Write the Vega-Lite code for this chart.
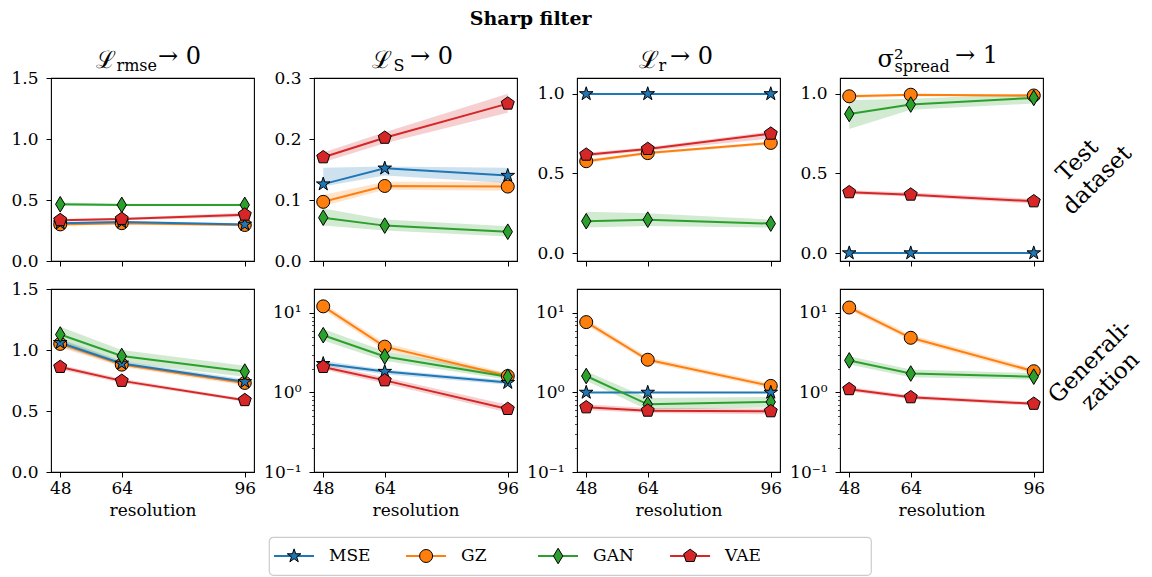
{
"$schema":"https://vega.github.io/schema/vega-lite/v6.json",
"background":"white",
"padding":{"left":10,"top":10,"right":5,"bottom":2},
"title":{"text":"Sharp filter","font":"DejaVu Serif","fontSize":19,"fontWeight":"bold","anchor":"middle","offset":14,"dx":-53,"color":"#000"},
"config":{
 "view":{"stroke":"#000","strokeWidth":1.1},
 "axis":{"domain":false,"grid":false,"ticks":true,"tickColor":"#000","tickSize":5,"tickWidth":1,"labelFont":"DejaVu Serif","labelFontSize":17,"labelColor":"#000","labelFlush":false,"titleFont":"DejaVu Serif","titleFontWeight":"normal","titleColor":"#000","titleFontSize":17},
 "axisX":{"labelPadding":3},
 "axisY":{"labelPadding":8},
 "title":{"font":"DejaVu Serif","fontWeight":"normal","color":"#000"}
},
"datasets":{
"d":[
{"p":"a1","m":"GZ","r":48,"v":0.30,"lo":0.29,"hi":0.31},
{"p":"a1","m":"GZ","r":64,"v":0.31,"lo":0.30,"hi":0.32},
{"p":"a1","m":"GZ","r":96,"v":0.295,"lo":0.285,"hi":0.305},
{"p":"a1","m":"MSE","r":48,"v":0.31,"lo":0.30,"hi":0.32},
{"p":"a1","m":"MSE","r":64,"v":0.32,"lo":0.31,"hi":0.33},
{"p":"a1","m":"MSE","r":96,"v":0.30,"lo":0.29,"hi":0.31},
{"p":"a1","m":"GAN","r":48,"v":0.465,"lo":0.45,"hi":0.48},
{"p":"a1","m":"GAN","r":64,"v":0.46,"lo":0.45,"hi":0.47},
{"p":"a1","m":"GAN","r":96,"v":0.46,"lo":0.45,"hi":0.47},
{"p":"a1","m":"VAE","r":48,"v":0.335,"lo":0.325,"hi":0.345},
{"p":"a1","m":"VAE","r":64,"v":0.345,"lo":0.335,"hi":0.355},
{"p":"a1","m":"VAE","r":96,"v":0.38,"lo":0.36,"hi":0.395},
{"p":"a2","m":"GZ","r":48,"v":0.097,"lo":0.09,"hi":0.108},
{"p":"a2","m":"GZ","r":64,"v":0.123,"lo":0.117,"hi":0.13},
{"p":"a2","m":"GZ","r":96,"v":0.122,"lo":0.115,"hi":0.13},
{"p":"a2","m":"MSE","r":48,"v":0.126,"lo":0.122,"hi":0.153},
{"p":"a2","m":"MSE","r":64,"v":0.152,"lo":0.14,"hi":0.155},
{"p":"a2","m":"MSE","r":96,"v":0.14,"lo":0.128,"hi":0.153},
{"p":"a2","m":"GAN","r":48,"v":0.071,"lo":0.058,"hi":0.086},
{"p":"a2","m":"GAN","r":64,"v":0.058,"lo":0.05,"hi":0.068},
{"p":"a2","m":"GAN","r":96,"v":0.048,"lo":0.04,"hi":0.057},
{"p":"a2","m":"VAE","r":48,"v":0.17,"lo":0.162,"hi":0.178},
{"p":"a2","m":"VAE","r":64,"v":0.202,"lo":0.193,"hi":0.211},
{"p":"a2","m":"VAE","r":96,"v":0.258,"lo":0.243,"hi":0.274},
{"p":"a3","m":"GZ","r":48,"v":0.577,"lo":0.565,"hi":0.59},
{"p":"a3","m":"GZ","r":64,"v":0.628,"lo":0.62,"hi":0.637},
{"p":"a3","m":"GZ","r":96,"v":0.692,"lo":0.68,"hi":0.70},
{"p":"a3","m":"MSE","r":48,"v":1.0,"lo":1.0,"hi":1.0},
{"p":"a3","m":"MSE","r":64,"v":1.0,"lo":1.0,"hi":1.0},
{"p":"a3","m":"MSE","r":96,"v":1.0,"lo":1.0,"hi":1.0},
{"p":"a3","m":"GAN","r":48,"v":0.20,"lo":0.16,"hi":0.26},
{"p":"a3","m":"GAN","r":64,"v":0.21,"lo":0.17,"hi":0.25},
{"p":"a3","m":"GAN","r":96,"v":0.185,"lo":0.16,"hi":0.21},
{"p":"a3","m":"VAE","r":48,"v":0.618,"lo":0.605,"hi":0.63},
{"p":"a3","m":"VAE","r":64,"v":0.654,"lo":0.643,"hi":0.665},
{"p":"a3","m":"VAE","r":96,"v":0.75,"lo":0.72,"hi":0.765},
{"p":"a4","m":"GZ","r":48,"v":0.985,"lo":0.975,"hi":0.995},
{"p":"a4","m":"GZ","r":64,"v":0.995,"lo":0.985,"hi":1.0},
{"p":"a4","m":"GZ","r":96,"v":0.99,"lo":0.98,"hi":1.0},
{"p":"a4","m":"MSE","r":48,"v":0.0,"lo":0.0,"hi":0.0},
{"p":"a4","m":"MSE","r":64,"v":0.0,"lo":0.0,"hi":0.0},
{"p":"a4","m":"MSE","r":96,"v":0.0,"lo":0.0,"hi":0.0},
{"p":"a4","m":"GAN","r":48,"v":0.874,"lo":0.78,"hi":0.96},
{"p":"a4","m":"GAN","r":64,"v":0.933,"lo":0.90,"hi":0.97},
{"p":"a4","m":"GAN","r":96,"v":0.975,"lo":0.94,"hi":1.0},
{"p":"a4","m":"VAE","r":48,"v":0.382,"lo":0.37,"hi":0.395},
{"p":"a4","m":"VAE","r":64,"v":0.367,"lo":0.355,"hi":0.38},
{"p":"a4","m":"VAE","r":96,"v":0.325,"lo":0.31,"hi":0.34},
{"p":"b1","m":"GZ","r":48,"v":1.05,"lo":1.02,"hi":1.08},
{"p":"b1","m":"GZ","r":64,"v":0.88,"lo":0.86,"hi":0.90},
{"p":"b1","m":"GZ","r":96,"v":0.73,"lo":0.71,"hi":0.75},
{"p":"b1","m":"MSE","r":48,"v":1.06,"lo":1.03,"hi":1.09},
{"p":"b1","m":"MSE","r":64,"v":0.89,"lo":0.87,"hi":0.91},
{"p":"b1","m":"MSE","r":96,"v":0.739,"lo":0.72,"hi":0.76},
{"p":"b1","m":"GAN","r":48,"v":1.127,"lo":1.07,"hi":1.19},
{"p":"b1","m":"GAN","r":64,"v":0.951,"lo":0.90,"hi":1.0},
{"p":"b1","m":"GAN","r":96,"v":0.823,"lo":0.78,"hi":0.87},
{"p":"b1","m":"VAE","r":48,"v":0.861,"lo":0.84,"hi":0.88},
{"p":"b1","m":"VAE","r":64,"v":0.747,"lo":0.73,"hi":0.765},
{"p":"b1","m":"VAE","r":96,"v":0.589,"lo":0.575,"hi":0.60},
{"p":"b2","m":"GZ","r":48,"v":12.1,"lo":11.0,"hi":13.2},
{"p":"b2","m":"GZ","r":64,"v":3.77,"lo":3.4,"hi":4.2},
{"p":"b2","m":"GZ","r":96,"v":1.61,"lo":1.5,"hi":1.75},
{"p":"b2","m":"MSE","r":48,"v":2.30,"lo":2.15,"hi":2.5},
{"p":"b2","m":"MSE","r":64,"v":1.83,"lo":1.7,"hi":1.95},
{"p":"b2","m":"MSE","r":96,"v":1.33,"lo":1.25,"hi":1.42},
{"p":"b2","m":"GAN","r":48,"v":5.25,"lo":4.5,"hi":6.3},
{"p":"b2","m":"GAN","r":64,"v":2.84,"lo":2.5,"hi":3.3},
{"p":"b2","m":"GAN","r":96,"v":1.58,"lo":1.45,"hi":1.75},
{"p":"b2","m":"VAE","r":48,"v":2.09,"lo":1.95,"hi":2.25},
{"p":"b2","m":"VAE","r":64,"v":1.42,"lo":1.3,"hi":1.55},
{"p":"b2","m":"VAE","r":96,"v":0.62,"lo":0.56,"hi":0.70},
{"p":"b3","m":"GZ","r":48,"v":7.67,"lo":7.0,"hi":8.4},
{"p":"b3","m":"GZ","r":64,"v":2.58,"lo":2.4,"hi":2.8},
{"p":"b3","m":"GZ","r":96,"v":1.21,"lo":1.12,"hi":1.3},
{"p":"b3","m":"MSE","r":48,"v":1.0,"lo":1.0,"hi":1.0},
{"p":"b3","m":"MSE","r":64,"v":1.0,"lo":1.0,"hi":1.0},
{"p":"b3","m":"MSE","r":96,"v":1.0,"lo":1.0,"hi":1.0},
{"p":"b3","m":"GAN","r":48,"v":1.61,"lo":1.4,"hi":1.85},
{"p":"b3","m":"GAN","r":64,"v":0.71,"lo":0.6,"hi":0.85},
{"p":"b3","m":"GAN","r":96,"v":0.76,"lo":0.65,"hi":0.88},
{"p":"b3","m":"VAE","r":48,"v":0.65,"lo":0.6,"hi":0.71},
{"p":"b3","m":"VAE","r":64,"v":0.59,"lo":0.55,"hi":0.64},
{"p":"b3","m":"VAE","r":96,"v":0.58,"lo":0.53,"hi":0.63},
{"p":"b4","m":"GZ","r":48,"v":11.7,"lo":10.8,"hi":12.8},
{"p":"b4","m":"GZ","r":64,"v":4.87,"lo":4.5,"hi":5.3},
{"p":"b4","m":"GZ","r":96,"v":1.85,"lo":1.7,"hi":2.0},
{"p":"b4","m":"GAN","r":48,"v":2.53,"lo":2.25,"hi":2.85},
{"p":"b4","m":"GAN","r":64,"v":1.73,"lo":1.55,"hi":1.95},
{"p":"b4","m":"GAN","r":96,"v":1.58,"lo":1.45,"hi":1.75},
{"p":"b4","m":"VAE","r":48,"v":1.10,"lo":1.03,"hi":1.17},
{"p":"b4","m":"VAE","r":64,"v":0.87,"lo":0.82,"hi":0.92},
{"p":"b4","m":"VAE","r":96,"v":0.72,"lo":0.68,"hi":0.76}
],
"leg":[{"m":"MSE"},{"m":"GZ"},{"m":"GAN"},{"m":"VAE"}]
},
"data":{"name":"d"},
"vconcat":[
{
"columns":4,
"spacing":{"row":28,"column":60},
"bounds":"flush",
"concat":[
{
"width":203,"height":183,
"transform":[{"filter":"datum.p=='a1'"}],
"title":{"text":"→ 0","anchor":"start","frame":"group","dx":107,"dy":40,"offset":0,"fontSize":24,"baseline":"alphabetic"},
"encoding":{
"x":{"field":"r","type":"quantitative","scale":{"domain":[45.6,98.4],"nice":false,"zero":false},"axis":{"values":[48,64,96],"labels":false,"title":"rmse","titleX":65,"titleY":-191,"titleAlign":"left","titleBaseline":"alphabetic","titleFontSize":16,"titleAngle":0}},
"y":{"field":"v","type":"quantitative","scale":{"domain":[0,1.5],"nice":false,"zero":false},"axis":{"values":[0,0.5,1,1.5],"format":".1f","title":"ℒ","titleAngle":0,"titleX":44,"titleY":-11,"titleAlign":"left","titleBaseline":"alphabetic","titleFontSize":24}},
"color":{"field":"m","type":"nominal","scale":{"domain":["MSE","GZ","GAN","VAE"],"range":["#1f77b4","#ff7f0e","#2ca02c","#d62728"]},"legend":null}
},
"layer":[
{"mark":{"type":"area","opacity":0.22},"encoding":{"y":{"field":"lo","type":"quantitative","scale":{"domain":[0,1.5],"nice":false,"zero":false},"axis":{"values":[0,0.5,1,1.5],"format":".1f","title":"ℒ","titleAngle":0,"titleX":44,"titleY":-11,"titleAlign":"left","titleBaseline":"alphabetic","titleFontSize":24}},"y2":{"field":"hi"}}},
{"mark":{"type":"line","strokeWidth":2},"encoding":{}},
{"mark":{"type":"point","filled":true,"opacity":1,"stroke":"#000","strokeWidth":1,"size":169},"encoding":{"shape":{"field":"m","type":"nominal","scale":{"domain":["MSE","GZ","GAN","VAE"],"range":["M0,-1.1L0.247,-0.34L1.046,-0.34L0.4,0.13L0.647,0.89L0,0.42L-0.647,0.89L-0.4,0.13L-1.046,-0.34L-0.247,-0.34Z","circle","M0,-1.2L0.72,0L0,1.2L-0.72,0Z","M0,-1.05L0.999,-0.324L0.617,0.849L-0.617,0.849L-0.999,-0.324Z"]},"legend":null}}}
]
},
{
"width":203,"height":183,
"transform":[{"filter":"datum.p=='a2'"}],
"title":{"text":"→ 0","anchor":"start","frame":"group","dx":96,"dy":40,"offset":0,"fontSize":24,"baseline":"alphabetic"},
"encoding":{
"x":{"field":"r","type":"quantitative","scale":{"domain":[45.6,98.4],"nice":false,"zero":false},"axis":{"values":[48,64,96],"labels":false,"title":"S","titleX":79,"titleY":-191,"titleAlign":"left","titleBaseline":"alphabetic","titleFontSize":16,"titleAngle":0}},
"y":{"field":"v","type":"quantitative","scale":{"domain":[0,0.3],"nice":false,"zero":false},"axis":{"values":[0,0.1,0.2,0.3],"format":".1f","title":"ℒ","titleAngle":0,"titleX":57,"titleY":-11,"titleAlign":"left","titleBaseline":"alphabetic","titleFontSize":24}},
"color":{"field":"m","type":"nominal","scale":{"domain":["MSE","GZ","GAN","VAE"],"range":["#1f77b4","#ff7f0e","#2ca02c","#d62728"]},"legend":null}
},
"layer":[
{"mark":{"type":"area","opacity":0.22},"encoding":{"y":{"field":"lo","type":"quantitative","scale":{"domain":[0,0.3],"nice":false,"zero":false},"axis":{"values":[0,0.1,0.2,0.3],"format":".1f","title":"ℒ","titleAngle":0,"titleX":57,"titleY":-11,"titleAlign":"left","titleBaseline":"alphabetic","titleFontSize":24}},"y2":{"field":"hi"}}},
{"mark":{"type":"line","strokeWidth":2},"encoding":{}},
{"mark":{"type":"point","filled":true,"opacity":1,"stroke":"#000","strokeWidth":1,"size":169},"encoding":{"shape":{"field":"m","type":"nominal","scale":{"domain":["MSE","GZ","GAN","VAE"],"range":["M0,-1.1L0.247,-0.34L1.046,-0.34L0.4,0.13L0.647,0.89L0,0.42L-0.647,0.89L-0.4,0.13L-1.046,-0.34L-0.247,-0.34Z","circle","M0,-1.2L0.72,0L0,1.2L-0.72,0Z","M0,-1.05L0.999,-0.324L0.617,0.849L-0.617,0.849L-0.999,-0.324Z"]},"legend":null}}}
]
},
{
"width":203,"height":183,
"transform":[{"filter":"datum.p=='a3'"}],
"title":{"text":"→ 0","anchor":"start","frame":"group","dx":93,"dy":40,"offset":0,"fontSize":24,"baseline":"alphabetic"},
"encoding":{
"x":{"field":"r","type":"quantitative","scale":{"domain":[45.6,98.4],"nice":false,"zero":false},"axis":{"values":[48,64,96],"labels":false,"title":"r","titleX":81,"titleY":-191,"titleAlign":"left","titleBaseline":"alphabetic","titleFontSize":16,"titleAngle":0}},
"y":{"field":"v","type":"quantitative","scale":{"domain":[-0.05,1.1],"nice":false,"zero":false},"axis":{"values":[0,0.5,1],"format":".1f","title":"ℒ","titleAngle":0,"titleX":61,"titleY":-11,"titleAlign":"left","titleBaseline":"alphabetic","titleFontSize":24}},
"color":{"field":"m","type":"nominal","scale":{"domain":["MSE","GZ","GAN","VAE"],"range":["#1f77b4","#ff7f0e","#2ca02c","#d62728"]},"legend":null}
},
"layer":[
{"mark":{"type":"area","opacity":0.22},"encoding":{"y":{"field":"lo","type":"quantitative","scale":{"domain":[-0.05,1.1],"nice":false,"zero":false},"axis":{"values":[0,0.5,1],"format":".1f","title":"ℒ","titleAngle":0,"titleX":61,"titleY":-11,"titleAlign":"left","titleBaseline":"alphabetic","titleFontSize":24}},"y2":{"field":"hi"}}},
{"mark":{"type":"line","strokeWidth":2},"encoding":{}},
{"mark":{"type":"point","filled":true,"opacity":1,"stroke":"#000","strokeWidth":1,"size":169},"encoding":{"shape":{"field":"m","type":"nominal","scale":{"domain":["MSE","GZ","GAN","VAE"],"range":["M0,-1.1L0.247,-0.34L1.046,-0.34L0.4,0.13L0.647,0.89L0,0.42L-0.647,0.89L-0.4,0.13L-1.046,-0.34L-0.247,-0.34Z","circle","M0,-1.2L0.72,0L0,1.2L-0.72,0Z","M0,-1.05L0.999,-0.324L0.617,0.849L-0.617,0.849L-0.999,-0.324Z"]},"legend":null}}}
]
},
{
"width":203,"height":183,
"transform":[{"filter":"datum.p=='a4'"}],
"title":{"text":"→ 1","anchor":"start","frame":"group","dx":115,"dy":40,"offset":0,"fontSize":24,"baseline":"alphabetic"},
"encoding":{
"x":{"field":"r","type":"quantitative","scale":{"domain":[45.6,98.4],"nice":false,"zero":false},"axis":{"values":[48,64,96],"labels":false,"title":"spread","titleX":54,"titleY":-190,"titleAlign":"left","titleBaseline":"alphabetic","titleFontSize":16,"titleAngle":0}},
"y":{"field":"v","type":"quantitative","scale":{"domain":[-0.05,1.1],"nice":false,"zero":false},"axis":{"values":[0,0.5,1],"format":".1f","title":"σ²","titleAngle":0,"titleX":37,"titleY":-12,"titleAlign":"left","titleBaseline":"alphabetic","titleFontSize":24}},
"color":{"field":"m","type":"nominal","scale":{"domain":["MSE","GZ","GAN","VAE"],"range":["#1f77b4","#ff7f0e","#2ca02c","#d62728"]},"legend":null}
},
"layer":[
{"mark":{"type":"area","opacity":0.22},"encoding":{"y":{"field":"lo","type":"quantitative","scale":{"domain":[-0.05,1.1],"nice":false,"zero":false},"axis":{"values":[0,0.5,1],"format":".1f","title":"σ²","titleAngle":0,"titleX":37,"titleY":-12,"titleAlign":"left","titleBaseline":"alphabetic","titleFontSize":24}},"y2":{"field":"hi"}}},
{"mark":{"type":"line","strokeWidth":2},"encoding":{}},
{"mark":{"type":"point","filled":true,"opacity":1,"stroke":"#000","strokeWidth":1,"size":169},"encoding":{"shape":{"field":"m","type":"nominal","scale":{"domain":["MSE","GZ","GAN","VAE"],"range":["M0,-1.1L0.247,-0.34L1.046,-0.34L0.4,0.13L0.647,0.89L0,0.42L-0.647,0.89L-0.4,0.13L-1.046,-0.34L-0.247,-0.34Z","circle","M0,-1.2L0.72,0L0,1.2L-0.72,0Z","M0,-1.05L0.999,-0.324L0.617,0.849L-0.617,0.849L-0.999,-0.324Z"]},"legend":null}}}
]
},
{
"width":203,"height":183,
"transform":[{"filter":"datum.p=='b1'"}],
"encoding":{
"x":{"field":"r","type":"quantitative","scale":{"domain":[45.6,98.4],"nice":false,"zero":false},"axis":{"values":[48,64,96],"title":"resolution","titlePadding":6}},
"y":{"field":"v","type":"quantitative","scale":{"domain":[0,1.5],"nice":false,"zero":false},"axis":{"values":[0,0.5,1,1.5],"format":".1f","title":null}},
"color":{"field":"m","type":"nominal","scale":{"domain":["MSE","GZ","GAN","VAE"],"range":["#1f77b4","#ff7f0e","#2ca02c","#d62728"]},"legend":null}
},
"layer":[
{"mark":{"type":"area","opacity":0.22},"encoding":{"y":{"field":"lo","type":"quantitative","scale":{"domain":[0,1.5],"nice":false,"zero":false},"axis":{"values":[0,0.5,1,1.5],"format":".1f","title":null}},"y2":{"field":"hi"}}},
{"mark":{"type":"line","strokeWidth":2},"encoding":{}},
{"mark":{"type":"point","filled":true,"opacity":1,"stroke":"#000","strokeWidth":1,"size":169},"encoding":{"shape":{"field":"m","type":"nominal","scale":{"domain":["MSE","GZ","GAN","VAE"],"range":["M0,-1.1L0.247,-0.34L1.046,-0.34L0.4,0.13L0.647,0.89L0,0.42L-0.647,0.89L-0.4,0.13L-1.046,-0.34L-0.247,-0.34Z","circle","M0,-1.2L0.72,0L0,1.2L-0.72,0Z","M0,-1.05L0.999,-0.324L0.617,0.849L-0.617,0.849L-0.999,-0.324Z"]},"legend":null}}}
]
},
{
"width":203,"height":183,
"transform":[{"filter":"datum.p=='b2'"}],
"encoding":{
"x":{"field":"r","type":"quantitative","scale":{"domain":[45.6,98.4],"nice":false,"zero":false},"axis":{"values":[48,64,96],"title":"resolution","titlePadding":6}},
"y":{"field":"v","type":"quantitative","scale":{"type":"log","domain":[0.1,20],"nice":false},"axis":{"values":[0.1,0.2,0.3,0.4,0.5,0.6,0.7,0.8,0.9,1,2,3,4,5,6,7,8,9,10],"labelExpr":"datum.value==0.1?'10⁻¹':datum.value==1?'10⁰':datum.value==10?'10¹':''","tickSize":{"condition":{"test":"datum.value==0.1||datum.value==1||datum.value==10","value":5},"value":2.5},"tickWidth":{"condition":{"test":"datum.value==0.1||datum.value==1||datum.value==10","value":1},"value":0.7},"title":null}},
"color":{"field":"m","type":"nominal","scale":{"domain":["MSE","GZ","GAN","VAE"],"range":["#1f77b4","#ff7f0e","#2ca02c","#d62728"]},"legend":null}
},
"layer":[
{"mark":{"type":"area","opacity":0.22},"encoding":{"y":{"field":"lo","type":"quantitative","scale":{"type":"log","domain":[0.1,20],"nice":false},"axis":{"values":[0.1,0.2,0.3,0.4,0.5,0.6,0.7,0.8,0.9,1,2,3,4,5,6,7,8,9,10],"labelExpr":"datum.value==0.1?'10⁻¹':datum.value==1?'10⁰':datum.value==10?'10¹':''","tickSize":{"condition":{"test":"datum.value==0.1||datum.value==1||datum.value==10","value":5},"value":2.5},"tickWidth":{"condition":{"test":"datum.value==0.1||datum.value==1||datum.value==10","value":1},"value":0.7},"title":null}},"y2":{"field":"hi"}}},
{"mark":{"type":"line","strokeWidth":2},"encoding":{}},
{"mark":{"type":"point","filled":true,"opacity":1,"stroke":"#000","strokeWidth":1,"size":169},"encoding":{"shape":{"field":"m","type":"nominal","scale":{"domain":["MSE","GZ","GAN","VAE"],"range":["M0,-1.1L0.247,-0.34L1.046,-0.34L0.4,0.13L0.647,0.89L0,0.42L-0.647,0.89L-0.4,0.13L-1.046,-0.34L-0.247,-0.34Z","circle","M0,-1.2L0.72,0L0,1.2L-0.72,0Z","M0,-1.05L0.999,-0.324L0.617,0.849L-0.617,0.849L-0.999,-0.324Z"]},"legend":null}}}
]
},
{
"width":203,"height":183,
"transform":[{"filter":"datum.p=='b3'"}],
"encoding":{
"x":{"field":"r","type":"quantitative","scale":{"domain":[45.6,98.4],"nice":false,"zero":false},"axis":{"values":[48,64,96],"title":"resolution","titlePadding":6}},
"y":{"field":"v","type":"quantitative","scale":{"type":"log","domain":[0.1,20],"nice":false},"axis":{"values":[0.1,0.2,0.3,0.4,0.5,0.6,0.7,0.8,0.9,1,2,3,4,5,6,7,8,9,10],"labelExpr":"datum.value==0.1?'10⁻¹':datum.value==1?'10⁰':datum.value==10?'10¹':''","tickSize":{"condition":{"test":"datum.value==0.1||datum.value==1||datum.value==10","value":5},"value":2.5},"tickWidth":{"condition":{"test":"datum.value==0.1||datum.value==1||datum.value==10","value":1},"value":0.7},"title":["Test","dataset"],"titleAngle":-45,"titleX":500,"titleY":-129,"titleAlign":"center","titleBaseline":"middle","titleFontSize":23,"titleLineHeight":28}},
"color":{"field":"m","type":"nominal","scale":{"domain":["MSE","GZ","GAN","VAE"],"range":["#1f77b4","#ff7f0e","#2ca02c","#d62728"]},"legend":null}
},
"layer":[
{"mark":{"type":"area","opacity":0.22},"encoding":{"y":{"field":"lo","type":"quantitative","scale":{"type":"log","domain":[0.1,20],"nice":false},"axis":{"values":[0.1,0.2,0.3,0.4,0.5,0.6,0.7,0.8,0.9,1,2,3,4,5,6,7,8,9,10],"labelExpr":"datum.value==0.1?'10⁻¹':datum.value==1?'10⁰':datum.value==10?'10¹':''","tickSize":{"condition":{"test":"datum.value==0.1||datum.value==1||datum.value==10","value":5},"value":2.5},"tickWidth":{"condition":{"test":"datum.value==0.1||datum.value==1||datum.value==10","value":1},"value":0.7},"title":["Test","dataset"],"titleAngle":-45,"titleX":500,"titleY":-129,"titleAlign":"center","titleBaseline":"middle","titleFontSize":23,"titleLineHeight":28}},"y2":{"field":"hi"}}},
{"mark":{"type":"line","strokeWidth":2},"encoding":{}},
{"mark":{"type":"point","filled":true,"opacity":1,"stroke":"#000","strokeWidth":1,"size":169},"encoding":{"shape":{"field":"m","type":"nominal","scale":{"domain":["MSE","GZ","GAN","VAE"],"range":["M0,-1.1L0.247,-0.34L1.046,-0.34L0.4,0.13L0.647,0.89L0,0.42L-0.647,0.89L-0.4,0.13L-1.046,-0.34L-0.247,-0.34Z","circle","M0,-1.2L0.72,0L0,1.2L-0.72,0Z","M0,-1.05L0.999,-0.324L0.617,0.849L-0.617,0.849L-0.999,-0.324Z"]},"legend":null}}}
]
},
{
"width":203,"height":183,
"transform":[{"filter":"datum.p=='b4'"}],
"encoding":{
"x":{"field":"r","type":"quantitative","scale":{"domain":[45.6,98.4],"nice":false,"zero":false},"axis":{"values":[48,64,96],"title":"resolution","titlePadding":6}},
"y":{"field":"v","type":"quantitative","scale":{"type":"log","domain":[0.1,20],"nice":false},"axis":{"values":[0.1,0.2,0.3,0.4,0.5,0.6,0.7,0.8,0.9,1,2,3,4,5,6,7,8,9,10],"labelExpr":"datum.value==0.1?'10⁻¹':datum.value==1?'10⁰':datum.value==10?'10¹':''","tickSize":{"condition":{"test":"datum.value==0.1||datum.value==1||datum.value==10","value":5},"value":2.5},"tickWidth":{"condition":{"test":"datum.value==0.1||datum.value==1||datum.value==10","value":1},"value":0.7},"title":["Generali-","zation"],"titleAngle":-45,"titleX":250,"titleY":72,"titleAlign":"center","titleBaseline":"middle","titleFontSize":23,"titleLineHeight":28}},
"color":{"field":"m","type":"nominal","scale":{"domain":["MSE","GZ","GAN","VAE"],"range":["#1f77b4","#ff7f0e","#2ca02c","#d62728"]},"legend":null}
},
"layer":[
{"mark":{"type":"area","opacity":0.22},"encoding":{"y":{"field":"lo","type":"quantitative","scale":{"type":"log","domain":[0.1,20],"nice":false},"axis":{"values":[0.1,0.2,0.3,0.4,0.5,0.6,0.7,0.8,0.9,1,2,3,4,5,6,7,8,9,10],"labelExpr":"datum.value==0.1?'10⁻¹':datum.value==1?'10⁰':datum.value==10?'10¹':''","tickSize":{"condition":{"test":"datum.value==0.1||datum.value==1||datum.value==10","value":5},"value":2.5},"tickWidth":{"condition":{"test":"datum.value==0.1||datum.value==1||datum.value==10","value":1},"value":0.7},"title":["Generali-","zation"],"titleAngle":-45,"titleX":250,"titleY":72,"titleAlign":"center","titleBaseline":"middle","titleFontSize":23,"titleLineHeight":28}},"y2":{"field":"hi"}}},
{"mark":{"type":"line","strokeWidth":2},"encoding":{}},
{"mark":{"type":"point","filled":true,"opacity":1,"stroke":"#000","strokeWidth":1,"size":169},"encoding":{"shape":{"field":"m","type":"nominal","scale":{"domain":["MSE","GZ","GAN","VAE"],"range":["M0,-1.1L0.247,-0.34L1.046,-0.34L0.4,0.13L0.647,0.89L0,0.42L-0.647,0.89L-0.4,0.13L-1.046,-0.34L-0.247,-0.34Z","circle","M0,-1.2L0.72,0L0,1.2L-0.72,0Z","M0,-1.05L0.999,-0.324L0.617,0.849L-0.617,0.849L-0.999,-0.324Z"]},"legend":null}}}
]
}
]
},
{
"spacing":20,
"hconcat":[
{
"width":197,"height":38,
"data":{"name":"leg"},
"view":{"stroke":null},
"mark":{"type":"point","opacity":0},
"encoding":{"x":{"field":"m","type":"nominal","axis":null}}
},
{
"width":602,"height":38,
"data":{"name":"leg"},
"view":{"stroke":"#cccccc","strokeWidth":1.2,"cornerRadius":4},
"encoding":{
"color":{"field":"m","type":"nominal","scale":{"domain":["MSE","GZ","GAN","VAE"],"range":["#1f77b4","#ff7f0e","#2ca02c","#d62728"]},"legend":null}
},
"layer":[
{"mark":{"type":"rule","strokeWidth":2},"encoding":{"x":{"field":"m","type":"nominal","sort":null,"bandPosition":0.038,"scale":{"type":"band","domain":["MSE","GZ","GAN","VAE"],"paddingInner":0,"paddingOuter":0.28,"align":0},"axis":null},"x2":{"field":"m","bandPosition":0.341},"y":{"datum":0,"type":"quantitative","scale":{"domain":[-1,1]},"axis":null}}},
{"mark":{"type":"point","filled":true,"opacity":1,"stroke":"#000","strokeWidth":1,"size":169},"encoding":{"x":{"field":"m","type":"nominal","sort":null,"bandPosition":0.19,"scale":{"type":"band","domain":["MSE","GZ","GAN","VAE"],"paddingInner":0,"paddingOuter":0.28,"align":0},"axis":null},"y":{"datum":0,"type":"quantitative","scale":{"domain":[-1,1]},"axis":null},"shape":{"field":"m","type":"nominal","scale":{"domain":["MSE","GZ","GAN","VAE"],"range":["M0,-1.1L0.247,-0.34L1.046,-0.34L0.4,0.13L0.647,0.89L0,0.42L-0.647,0.89L-0.4,0.13L-1.046,-0.34L-0.247,-0.34Z","circle","M0,-1.2L0.72,0L0,1.2L-0.72,0Z","M0,-1.05L0.999,-0.324L0.617,0.849L-0.617,0.849L-0.999,-0.324Z"]},"legend":null}}},
{"mark":{"type":"text","align":"left","baseline":"middle","font":"DejaVu Serif","fontSize":17,"color":"#000"},"encoding":{"x":{"field":"m","type":"nominal","sort":null,"bandPosition":0.455,"scale":{"type":"band","domain":["MSE","GZ","GAN","VAE"],"paddingInner":0,"paddingOuter":0.28,"align":0},"axis":null},"y":{"datum":0,"type":"quantitative","scale":{"domain":[-1,1]},"axis":null},"text":{"field":"m"},"color":{"value":"#000"}}}
]
}
]
}
],
"spacing":17
}
